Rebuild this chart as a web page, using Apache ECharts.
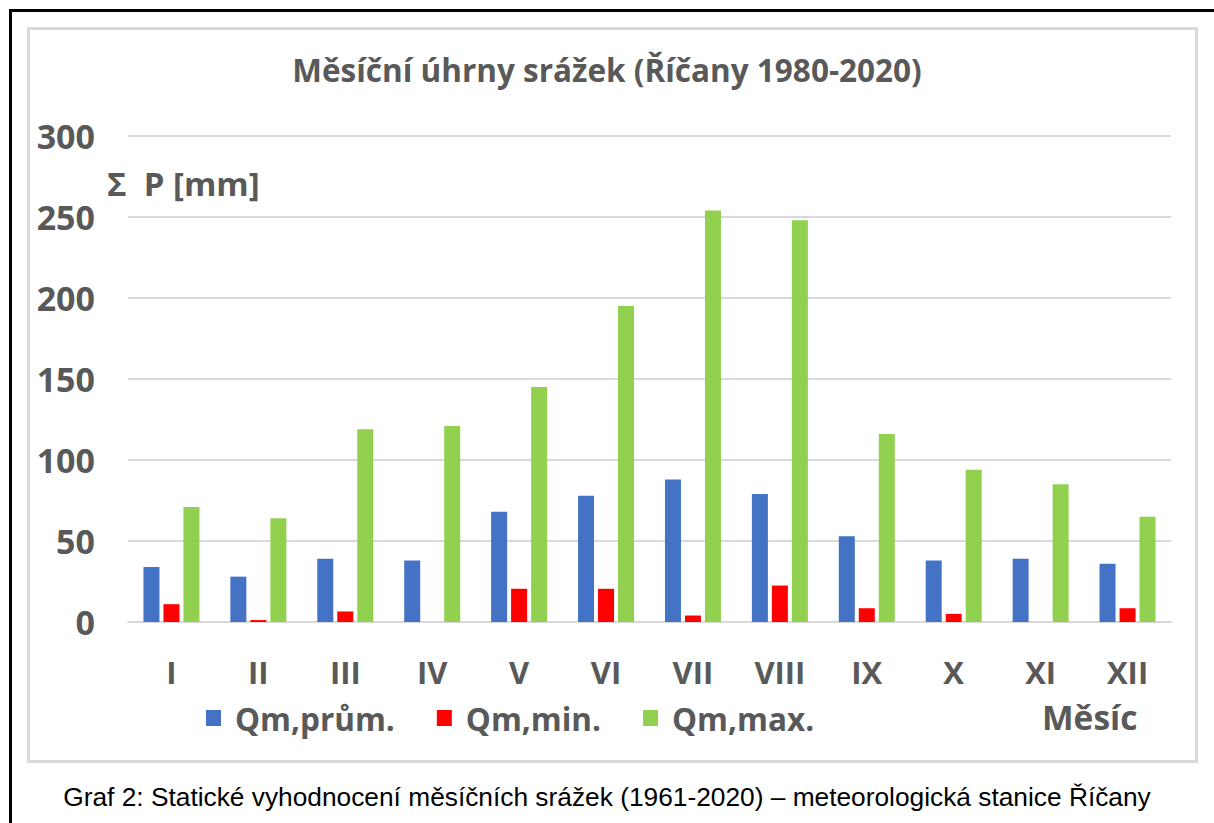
<!DOCTYPE html>
<html>
<head>
<meta charset="utf-8">
<title>Měsíční úhrny srážek</title>
<script src="https://cdn.jsdelivr.net/npm/echarts@6/dist/echarts.min.js"></script>
<style>
  html, body { margin: 0; padding: 0; background: #fff; }
  #chart { width: 1214px; height: 823px; }
</style>
</head>
<body>
<div id="chart"></div>
<script>
// months (roman numerals)
const months = ['I', 'II', 'III', 'IV', 'V', 'VI', 'VII', 'VIII', 'IX', 'X', 'XI', 'XII'];
// monthly precipitation [mm]
const qmPrum = [34, 28, 39, 38, 68, 78, 88, 79, 53, 38, 39, 36];
const qmMin = [11, 1.2, 6.5, 0, 20.5, 20.5, 4, 22.5, 8.5, 5, 0, 8.5];
const qmMax = [71, 64, 119, 121, 145, 195, 254, 248, 116, 94, 85, 65];
const seriesNames = ['Qm,prům.', 'Qm,min.', 'Qm,max.'];

const grayText = '#595959';
const labelFont = 'Open Sans';

const chart = echarts.init(document.getElementById('chart'), null, { renderer: 'svg' });

const option = {
  backgroundColor: '#fff',
  animation: false,
  title: {
    text: 'Měsíční úhrny srážek (Říčany 1980-2020)',
    left: 'center',
    top: 48,
    textStyle: {
      fontFamily: labelFont,
      fontSize: 31.5,
      fontWeight: 'bold',
      color: grayText
    }
  },
  legend: {
    data: seriesNames,
    left: 201,
    top: 697,
    icon: 'rect',
    itemWidth: 15,
    itemHeight: 16,
    itemGap: 42,
    textStyle: {
      fontFamily: labelFont,
      fontSize: 31.5,
      fontWeight: 'bold',
      color: grayText,
      padding: [0, 0, 0, 9]
    }
  },
  grid: {
    left: 128,
    right: 43,
    top: 136,
    bottom: 201
  },
  xAxis: {
    type: 'category',
    data: months,
    axisTick: { show: false },
    axisLine: { lineStyle: { color: '#d9d9d9', width: 2 } },
    axisLabel: {
      margin: 34,
      fontFamily: labelFont,
      fontSize: 31,
      fontWeight: 'bold',
      color: grayText
    }
  },
  yAxis: {
    type: 'value',
    min: 0,
    max: 300,
    interval: 50,
    axisLine: { show: false },
    axisTick: { show: false },
    splitLine: { lineStyle: { color: '#d9d9d9', width: 2 } },
    axisLabel: {
      margin: 33,
      fontFamily: labelFont,
      fontSize: 34,
      fontWeight: 'bold',
      color: grayText
    }
  },
  series: [
    { name: seriesNames[0], type: 'bar', data: qmPrum, barWidth: 16, barGap: '25%', barCategoryGap: '36%',
      itemStyle: { color: '#4472C4' } },
    { name: seriesNames[1], type: 'bar', data: qmMin, barWidth: 16, barGap: '25%',
      itemStyle: { color: '#FF0000' } },
    { name: seriesNames[2], type: 'bar', data: qmMax, barWidth: 16, barGap: '25%',
      itemStyle: { color: '#92D050' } }
  ],
  graphic: [
    // black frame of the figure (top + left only)
    { type: 'polyline', silent: true,
      shape: { points: [[10.5, 823], [10.5, 10.5], [1214, 10.5]] },
      style: { stroke: '#000', lineWidth: 3, fill: null } },
    // light gray chart area border
    { type: 'rect', silent: true,
      shape: { x: 28.5, y: 28.5, width: 1168, height: 733 },
      style: { stroke: '#d9d9d9', lineWidth: 3, fill: null } },
    // y axis name
    { type: 'text', left: 107, top: 167,
      style: { text: 'Σ  P [mm]', fontFamily: labelFont, fontSize: 33, fontWeight: 'bold', fill: grayText } },
    // x axis name
    { type: 'text', left: 1042, top: 700,
      style: { text: 'Měsíc', fontFamily: labelFont, fontSize: 33.5, fontWeight: 'bold', fill: grayText } },
    // caption under the chart
    { type: 'text', left: 'center', top: 784,
      style: { text: 'Graf 2: Statické vyhodnocení měsíčních srážek (1961-2020) – meteorologická stanice Říčany',
        fontFamily: 'Liberation Sans', fontSize: 26.3, fill: '#000' } }
  ]
};

chart.setOption(option);
</script>
</body>
</html>
